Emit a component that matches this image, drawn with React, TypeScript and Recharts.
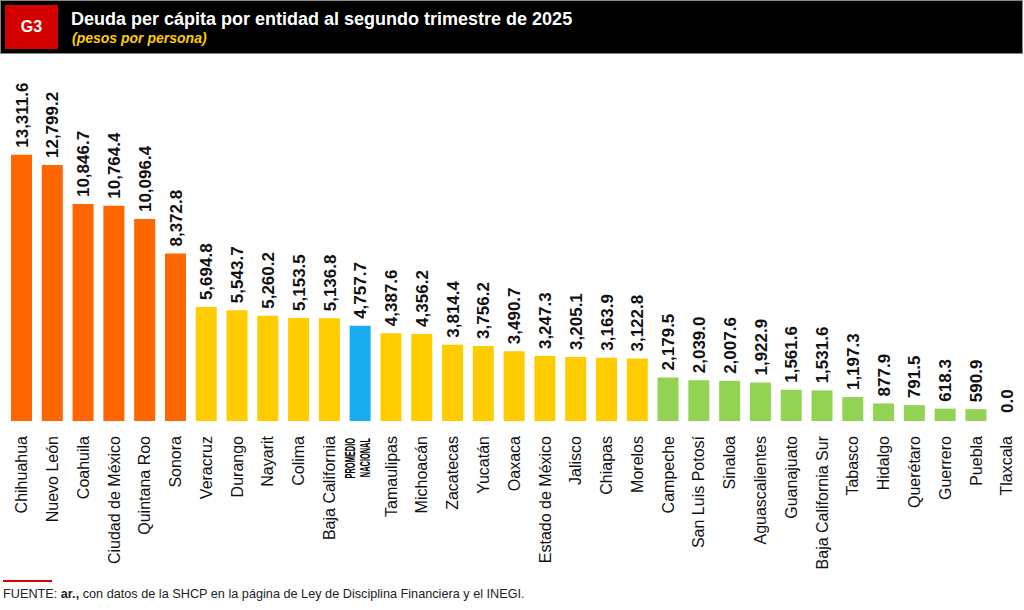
import React from "react";
import { BarChart, Bar, XAxis, YAxis, Cell, LabelList } from "recharts";

const entidades = [
  "Chihuahua", "Nuevo León", "Coahuila", "Ciudad de México", "Quintana Roo", "Sonora",
  "Veracruz", "Durango", "Nayarit", "Colima", "Baja California", "PROMEDIO NACIONAL",
  "Tamaulipas", "Michoacán", "Zacatecas", "Yucatán", "Oaxaca", "Estado de México",
  "Jalisco", "Chiapas", "Morelos", "Campeche", "San Luis Potosí", "Sinaloa",
  "Aguascalientes", "Guanajuato", "Baja California Sur", "Tabasco", "Hidalgo",
  "Querétaro", "Guerrero", "Puebla", "Tlaxcala",
];

const deudaPerCapita = [
  13311.6, 12799.2, 10846.7, 10764.4, 10096.4, 8372.8,
  5694.8, 5543.7, 5260.2, 5153.5, 5136.8, 4757.7,
  4387.6, 4356.2, 3814.4, 3756.2, 3490.7, 3247.3,
  3205.1, 3163.9, 3122.8, 2179.5, 2039.0, 2007.6,
  1922.9, 1561.6, 1531.6, 1197.3, 877.9,
  791.5, 618.3, 590.9, 0.0,
];

// grupo de cada entidad: alta, media, promedio, baja
const grupos = [
  "alta", "alta", "alta", "alta", "alta", "alta",
  "media", "media", "media", "media", "media", "promedio",
  "media", "media", "media", "media", "media", "media",
  "media", "media", "media", "baja", "baja", "baja",
  "baja", "baja", "baja", "baja", "baja",
  "baja", "baja", "baja", "baja",
];

const colores: Record<string, string> = {
  alta: "#FF6600",
  media: "#FFCC00",
  promedio: "#19ADEF",
  baja: "#92D353",
};

const data = entidades.map((nombre, i) => ({
  nombre,
  valor: deudaPerCapita[i],
  grupo: grupos[i],
}));

const FONT = "'Liberation Sans', Arial, Helvetica, sans-serif";
const fmt = (v: number) =>
  v.toLocaleString("en-US", { minimumFractionDigits: 1, maximumFractionDigits: 1 });

const EntidadTick = (props: any) => {
  const { x, y, payload } = props;
  if (payload.value === "PROMEDIO NACIONAL") {
    // dos renglones comprimidos a lo largo del texto
    return (
      <g transform={`translate(${x},${y + 9}) rotate(-90) scale(0.48,1)`}>
        <text textAnchor="end" fontFamily={FONT} fontWeight="bold" fontSize={15.5} fill="#000">
          <tspan x={0} y={-5}>PROMEDIO</tspan>
          <tspan x={0} y={10}>NACIONAL</tspan>
        </text>
      </g>
    );
  }
  return (
    <g transform={`translate(${x},${y + 7}) rotate(-90)`}>
      <text textAnchor="end" dy="0.36em" fontFamily={FONT} fontSize={16} fill="#111">
        {payload.value}
      </text>
    </g>
  );
};

const ValorLabel = (props: any) => {
  const { x, y, width, value } = props;
  const cx = x + width / 2;
  return (
    <g transform={`translate(${cx},${y - 7}) rotate(-90)`}>
      <text textAnchor="start" dy="0.36em" fontFamily={FONT} fontWeight="bold" fontSize={17} fill="#111">
        {fmt(value)}
      </text>
    </g>
  );
};

export default function App() {
  return (
    <div style={{ position: "absolute", left: 0, top: 0, width: 1024, height: 610, background: "#fff", fontFamily: FONT }}>
      <div
        style={{
          position: "absolute",
          left: 0,
          top: 0,
          width: 1021,
          height: 52,
          background: "#000",
          border: "1px solid #888",
        }}
      >
        <div
          style={{
            position: "absolute",
            left: 4,
            top: 4,
            width: 53,
            height: 44,
            background: "#D40000",
            color: "#fff",
            fontWeight: "bold",
            fontSize: 16,
            lineHeight: "44px",
            textAlign: "center",
          }}
        >
          G3
        </div>
        <div style={{ position: "absolute", left: 70, top: 8, color: "#fff", fontWeight: "bold", fontSize: 18, whiteSpace: "nowrap" }}>
          Deuda per cápita por entidad al segundo trimestre de 2025
        </div>
        <div
          style={{
            position: "absolute",
            left: 71,
            top: 29,
            color: "#FFCC00",
            fontWeight: "bold",
            fontStyle: "italic",
            fontSize: 14,
            whiteSpace: "nowrap",
          }}
        >
          (pesos por persona)
        </div>
      </div>

      <div style={{ position: "absolute", left: 0, top: 0 }}>
        <BarChart
          width={1024}
          height={610}
          data={data}
          margin={{ top: 121, right: 2, bottom: 9, left: 6 }}
        >
          <YAxis hide domain={[0, 15000]} />
          <XAxis
            dataKey="nombre"
            interval={0}
            height={180}
            axisLine={false}
            tickLine={false}
            tick={<EntidadTick />}
          />
          <Bar dataKey="valor" barSize={21} minPointSize={1} isAnimationActive={false}>
            {data.map((d, i) => (
              <Cell key={i} fill={d.valor === 0 ? "transparent" : colores[d.grupo]} />
            ))}
            <LabelList dataKey="valor" content={<ValorLabel />} />
          </Bar>
        </BarChart>
      </div>

      <div style={{ position: "absolute", left: 3, top: 580, width: 49, height: 2, background: "#E00000" }} />
      <div style={{ position: "absolute", left: 3, top: 587, fontSize: 12.7, color: "#222", whiteSpace: "nowrap" }}>
        FUENTE: <b>ar.,</b> con datos de la SHCP en la página de Ley de Disciplina Financiera y el INEGI.
      </div>
    </div>
  );
}
